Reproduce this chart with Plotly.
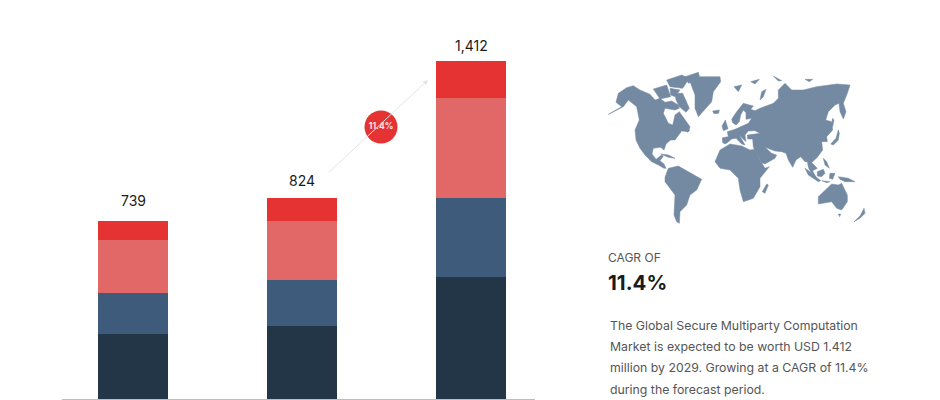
import plotly.graph_objects as go

categories = ["A", "B", "C"]
seg_dark = [271, 304, 511]
seg_blue = [171, 194, 327]
seg_light = [223, 246, 417]
seg_red = [79, 94, 157]
totals = ["739", "824", "1,412"]
label_shift = [20, 18, 15]
colors = ["#233648", "#3e5b7b", "#e26767", "#e53333"]
MAP_COLOR = "#748aa3"


def tr(x0, y0, pts):
    return [(x0 + a / 3, y0 + b / 3) for a, b in pts]


C1, C2, C3, C4 = (710, 70), (710, 140), (600, 65), (640, 140)

north_america = (
    tr(*C3, [(25,148),(65,125),(48,112),(55,85),(80,68),(100,62),(120,75),(150,88),(165,105),(180,100),(195,112),(215,108),(235,120),(238,130),(225,135),(195,130),(190,145),(205,175),(218,180),(225,150),(238,140),(255,165),(270,185),(265,200),(245,198),(225,225)])
    + tr(*C4, [(92,0),(78,12),(72,30),(62,22),(40,25),(36,42),(48,58),(65,45),(70,48),(60,62),(72,72),(78,85),(72,85),(55,75),(35,65),(15,45),(0,25)])
    + tr(*C3, [(108,225),(105,195),(118,165),(110,125),(85,105),(70,125),(45,138)])
)
south_america = tr(*C4, [(75,112),(85,85),(115,78),(140,92),(160,105),(185,118),(170,150),(150,165),(140,195),(120,215),(118,250),(110,245),(102,225),(105,190),(105,165),(75,125)])
greenland = tr(*C3, [(270,50),(300,35),(360,35),(362,50),(340,80),(335,110),(295,155),(285,130),(285,90)])
baffin = tr(*C3, [(225,85),(248,85),(268,130),(258,142),(238,125),(228,105)])
victoria = tr(*C3, [(160,72),(200,60),(212,95),(180,102)])
arctic_a = tr(*C3, [(200,45),(245,30),(268,40),(248,70),(210,65)])
arctic_b = tr(*C3, [(255,35),(295,22),(300,40),(265,55)])
arctic_c = tr(*C3, [(210,70),(240,75),(225,95),(212,90)])
newfoundland = tr(*C3, [(256,193),(270,195),(262,202)])
iceland = tr(*C3, [(338,138),(358,135),(356,145),(342,146)])
cuba = tr(*C4, [(62,42),(85,45),(105,55),(85,52)])
eurasia = (
    tr(*C1, [(38,218),(37,203),(55,200),(52,185),(75,178),(95,168),(115,160),(125,145),(108,148),(108,128),(100,120),(92,135),(88,155),(78,165),(68,158),(65,148),(80,125),(100,100),(130,108),(122,118),(135,122),(150,115),(190,100),(205,85),(205,60),(225,40),(245,60),(280,60),(320,50),(380,42),(420,45),(412,70),(400,100),(408,125),(400,147),(390,125),(387,100),(375,105),(355,125),(347,150),(365,155),(368,180),(350,200),(352,215)])
    + tr(*C2, [(335,5),(338,30),(322,52),(305,68),(322,85),(308,92),(300,78),(318,112),(313,114),(296,85),(292,65),(285,65),(272,50),(258,60),(248,82),(235,60),(228,40),(215,35),(195,33),(175,25),(165,22),(185,40),(200,45),(195,55),(165,72),(155,68),(140,40),(130,22)])
    + tr(*C1, [(128,207),(113,207),(112,195),(140,192),(150,190),(135,182),(115,183),(105,195),(108,215),(97,205),(88,195),(105,225),(95,222),(78,205),(65,207),(52,218),(45,222)])
)
uk = tr(*C1, [(36,168),(46,150),(54,176),(40,182)])
svalbard = tr(*C1, [(72,50),(95,45),(85,65)])
franz_josef = tr(*C1, [(122,35),(148,28),(135,42)])
novaya = tr(*C1, [(150,90),(155,65),(168,58),(160,80)])
severnaya = tr(*C1, [(190,18),(215,32),(205,33)])
new_siberian = tr(*C1, [(285,28),(308,28),(298,35)])
japan = tr(*C1, [(362,222),(378,205),(385,180),(388,190),(385,210),(370,225)])
sakhalin = tr(*C1, [(368,145),(372,150),(368,170),(365,160)])
africa = tr(*C2, [(15,65),(30,30),(60,12),(95,18),(120,30),(135,28),(150,60),(165,85),(178,80),(150,115),(150,140),(130,175),(100,185),(90,150),(85,115),(60,90),(30,85)])
madagascar = tr(*C2, [(170,132),(175,135),(165,160),(157,155)])
sumatra = tr(*C2, [(285,85),(300,95),(332,122),(325,125),(295,105)])
java = tr(*C2, [(335,122),(360,125),(350,128)])
borneo = tr(*C2, [(322,95),(340,88),(345,100),(335,110),(322,108)])
philippines = tr(*C2, [(340,55),(350,65),(358,85),(345,75)])
sulawesi = tr(*C2, [(360,100),(375,100),(368,118),(358,115)])
new_guinea = tr(*C2, [(385,110),(415,115),(435,125),(405,125),(390,118)])
australia = tr(*C2, [(325,170),(345,150),(365,132),(385,135),(395,130),(412,165),(412,185),(395,210),(380,205),(365,185),(340,188),(325,192)])
tasmania = tr(*C2, [(385,222),(392,222),(389,230)])
new_zealand = tr(*C2, [(432,245),(450,228),(462,205),(465,220),(450,235)])
land = [north_america, south_america, greenland, baffin, victoria, arctic_a, arctic_b, arctic_c, newfoundland,
        iceland, cuba, eurasia, uk, svalbard, franz_josef, novaya, severnaya, new_siberian, japan, sakhalin, africa,
        madagascar, sumatra, java, borneo, philippines, sulawesi, new_guinea, australia, tasmania, new_zealand]

para_lines = ["The Global Secure Multiparty Computation",
              "Market is expected to be worth USD 1.412",
              "million by 2029. Growing at a CAGR of 11.4%",
              "during the forecast period."]

fig = go.Figure()
for vals, col in zip([seg_dark, seg_blue, seg_light, seg_red], colors):
    fig.add_trace(go.Bar(x=categories, y=vals, marker=dict(color=col, line=dict(width=0)), hoverinfo="skip"))

for poly in land:
    xs = [p[0] for p in poly] + [poly[0][0]]
    ys = [p[1] for p in poly] + [poly[0][1]]
    fig.add_trace(go.Scatter(x=xs, y=ys, xaxis="x2", yaxis="y2", mode="lines", fill="toself",
                             fillcolor=MAP_COLOR, line=dict(color=MAP_COLOR, width=0.5),
                             hoverinfo="skip"))

fig.add_trace(go.Scatter(x=[381], y=[127], xaxis="x2", yaxis="y2", mode="markers+text",
                         marker=dict(size=33, color="#e53333", line=dict(width=0)),
                         text=["<b>11.4%</b>"], textposition="middle center",
                         textfont=dict(family="Inter", size=8.5, color="#fbe4e4"), hoverinfo="skip"))

anns = []
tops = [a + b + c + d for a, b, c, d in zip(seg_dark, seg_blue, seg_light, seg_red)]
for cat, top, lab, sh in zip(categories, tops, totals, label_shift):
    anns.append(dict(x=cat, y=top, xref="x", yref="y", text=lab, showarrow=False, yshift=sh, xshift=0.5,
                     font=dict(family="Inter", size=14, color="#1b1b1b"), xanchor="center", yanchor="middle"))
anns.append(dict(x=428, y=80, ax=327, ay=174, xref="x2", yref="y2", axref="x2", ayref="y2", text="",
                 showarrow=True, arrowhead=2, arrowsize=1, arrowwidth=1, arrowcolor="#e4e4e4"))
anns.append(dict(x=606, y=257, xref="x2", yref="y2", text="CAGR OF", showarrow=False, xanchor="left",
                 font=dict(family="Inter", size=12, color="#555555")))
anns.append(dict(x=606, y=282, xref="x2", yref="y2", text="<b>11.4%</b>", showarrow=False, xanchor="left",
                 font=dict(family="Inter", size=20.5, color="#1b1b1b")))
for ln, yy in zip(para_lines, [325, 346, 367, 389]):
    anns.append(dict(x=608, y=yy, xref="x2", yref="y2", text=ln, showarrow=False, xanchor="left",
                     font=dict(family="Inter", size=12.3, color="#555555")))

fig.update_layout(
    width=940, height=400, margin=dict(l=0, r=0, t=0, b=0), paper_bgcolor="white", plot_bgcolor="rgba(0,0,0,0)",
    showlegend=False, barmode="stack", bargap=0.586, annotations=anns,
    xaxis=dict(domain=[62/940, 535/940], range=[-0.42, 2.38], type="category", showticklabels=False, ticks="",
               showgrid=False, showline=True, linecolor="#bdbdbd", linewidth=1, zeroline=False, fixedrange=True),
    yaxis=dict(domain=[1/400, 1], range=[0, 1666], visible=False, showgrid=False, zeroline=False, fixedrange=True),
    xaxis2=dict(domain=[0, 1], range=[0, 940], anchor="y2", visible=False, fixedrange=True),
    yaxis2=dict(domain=[0, 1], range=[400, 0], anchor="x2", visible=False, fixedrange=True),
)
fig.write_html("out.html", config={"displayModeBar": False},
               post_script="document.body.style.margin='0';document.documentElement.style.overflow='hidden';")
